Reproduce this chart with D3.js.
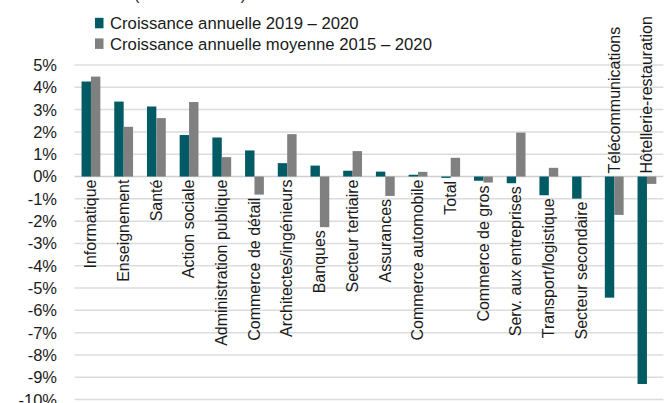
<!DOCTYPE html>
<html>
<head>
<meta charset="utf-8">
<script src="https://cdn.jsdelivr.net/npm/d3@7"></script>
<style>
  body { margin: 0; background: #fff; }
  text { font-family: "Liberation Sans", Arial, sans-serif; fill: #1a1a1a; }
</style>
</head>
<body>
<svg id="chart" width="668" height="403"></svg>
<script>
// categories and values (in %)
var categories = ["Informatique", "Enseignement", "Santé", "Action sociale",
  "Administration publique", "Commerce de détail", "Architectes/ingénieurs", "Banques",
  "Secteur tertiaire", "Assurances", "Commerce automobile", "Total", "Commerce de gros",
  "Serv. aux entreprises", "Transport/logistique", "Secteur secondaire",
  "Télécommunications", "Hôtellerie-restauration"];
var annual = [4.26, 3.36, 3.14, 1.86, 1.75, 1.17, 0.6, 0.49, 0.26, 0.22, 0.08, -0.06,
  -0.19, -0.3, -0.84, -0.99, -5.43, -9.3];
var average = [4.48, 2.23, 2.62, 3.34, 0.87, -0.81, 1.9, -2.27, 1.14, -0.87, 0.21, 0.84,
  -0.27, 1.97, 0.39, 0.02, -1.72, -0.33];
var seriesNames = ["Croissance annuelle 2019 – 2020", "Croissance annuelle moyenne 2015 – 2020"];
var yTicks = d3.range(-10, 6);
// labels drawn above the zero line instead of below
var labelsAbove = ["Télécommunications", "Hôtellerie-restauration"];

var colors = ["#005b65", "#808080"];

var svg = d3.select("#chart");

var x = d3.scaleBand().domain(categories).range([74.6, 663.3]);
var xs = d3.scaleBand().domain([0, 1]).range([0, 18.8]);
var y = d3.scaleLinear().domain([-10, 5]).range([399.6, 65]);

// title, cut at the top edge
svg.append("text")
  .attr("x", 134).attr("y", 0)
  .style("font-size", "16px")
  .text("(variation en %)");

// gridlines
svg.append("g").selectAll("line")
  .data(yTicks)
  .enter().append("line")
    .attr("x1", 74.6).attr("x2", 663.3)
    .attr("y1", function(d) { return y(d); })
    .attr("y2", function(d) { return y(d); })
    .attr("stroke", function(d) { return d === 0 ? "#cfcfcf" : "#dcdcdc"; })
    .attr("stroke-width", 1.5);

// y axis labels
svg.append("g").selectAll("text")
  .data(yTicks)
  .enter().append("text")
    .attr("x", 57)
    .attr("y", function(d) { return y(d); })
    .attr("dy", "0.36em")
    .attr("text-anchor", "end")
    .style("font-size", "16.5px")
    .text(function(d) { return d + "%"; });

// bars
var groups = svg.append("g").selectAll("g")
  .data(categories)
  .enter().append("g")
    .attr("transform", function(d) { return "translate(" + (x(d) + (x.bandwidth() - 18.8) / 2) + ",0)"; });

groups.selectAll("rect")
  .data(function(d, i) { return [annual[i], average[i]]; })
  .enter().append("rect")
    .attr("x", function(d, j) { return xs(j); })
    .attr("width", xs.bandwidth())
    .attr("y", function(d) { return y(Math.max(0, d)); })
    .attr("height", function(d) { return Math.abs(y(d) - y(0)); })
    .attr("fill", function(d, j) { return colors[j]; });

// category labels (rotated)
svg.append("g").selectAll("text")
  .data(categories)
  .enter().append("text")
    .attr("transform", function(d, i) {
      var cx = x(d) + x.bandwidth() / 2 - 0.5;
      var above = labelsAbove.indexOf(d) >= 0;
      var yy = above ? y(0) - 3 : y(Math.min(0, annual[i], average[i])) + 3;
      return "translate(" + cx + "," + yy + ") rotate(-90)";
    })
    .attr("dy", "0.36em")
    .attr("text-anchor", function(d) { return labelsAbove.indexOf(d) >= 0 ? "start" : "end"; })
    .style("font-size", "16px")
    .text(function(d) { return d; });

// legend
var legend = svg.append("g").selectAll("g")
  .data(seriesNames)
  .enter().append("g")
    .attr("transform", function(d, i) { return "translate(95," + (17.8 + i * 20.6) + ")"; });
legend.append("rect")
  .attr("width", 8.5).attr("height", 10.5)
  .attr("fill", function(d, i) { return colors[i]; });
legend.append("text")
  .attr("x", 15).attr("y", 5.3)
  .attr("dy", "0.36em")
  .style("font-size", "16.7px")
  .text(function(d) { return d; });
</script>
</body>
</html>
